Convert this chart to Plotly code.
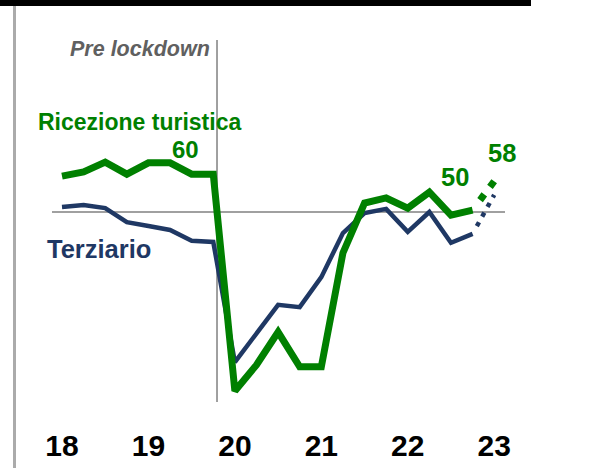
import plotly.graph_objects as go

# ---------------- data ----------------
quarters = ["2018-Q1", "2018-Q2", "2018-Q3", "2018-Q4",
            "2019-Q1", "2019-Q2", "2019-Q3", "2019-Q4",
            "2020-Q1", "2020-Q2", "2020-Q3", "2020-Q4",
            "2021-Q1", "2021-Q2", "2021-Q3", "2021-Q4",
            "2022-Q1", "2022-Q2", "2022-Q3", "2022-Q4",
            "2023-Q1"]
ricezione = [59.2, 60.3, 62.8, 59.7, 62.6, 62.6, 59.7, 59.7,
             4.1, 10.8, 19.2, 10.3, 10.3, 39.5, 52.3, 53.6,
             51.0, 55.1, 49.2, 50.5, 57.9]
terziario = [51.3, 51.8, 51.0, 47.4, 46.4, 45.4, 42.6, 42.3,
             11.5, 18.7, 26.2, 25.6, 33.3, 44.6, 49.7, 50.8,
             44.9, 50.0, 42.1, 44.4, 54.4]
tick_vals = ["2018-Q1", "2019-Q1", "2020-Q1", "2021-Q1", "2022-Q1", "2023-Q1"]
tick_text = ["18", "19", "20", "21", "22", "23"]
n_actual = 20  # last point is the estimate (dotted)

GREEN = "#008000"
NAVY = "#1F3864"

W, H = 595, 468
L, R, T, B = 14, 64, 6, 66
PW, PH = W - L - R, H - T - B


def px(x):
    return (x - L) / PW


def py(y):
    return (H - B - y) / PH


fig = go.Figure()

fig.add_trace(go.Scatter(x=quarters[:n_actual], y=terziario[:n_actual], mode="lines",
                         line=dict(color=NAVY, width=4.5), hoverinfo="skip"))
fig.add_trace(go.Scatter(x=quarters[n_actual - 1:], y=terziario[n_actual - 1:], mode="lines",
                         line=dict(color=NAVY, width=4.5,
                                   dash="0px,8.75px,4.5px,6.5px,4.5px,6.5px,4.5px,6.5px,4.5px,50px"),
                         hoverinfo="skip"))
fig.add_trace(go.Scatter(x=quarters[:n_actual], y=ricezione[:n_actual], mode="lines",
                         line=dict(color=GREEN, width=7), hoverinfo="skip"))
fig.add_trace(go.Scatter(x=quarters[n_actual - 1:], y=ricezione[n_actual - 1:], mode="lines",
                         line=dict(color=GREEN, width=7,
                                   dash="0px,12.5px,7px,9.5px,7px,50px"),
                         hoverinfo="skip"))

shapes = [
    # top black bar
    dict(type="rect", xref="paper", yref="paper", x0=px(0), x1=px(531), y0=py(6), y1=py(0),
         fillcolor="black", line=dict(width=0), layer="above"),
    # left gray rule
    dict(type="line", xref="paper", yref="paper", x0=px(14.5), x1=px(14.5), y0=py(6), y1=py(468),
         line=dict(color="#ABABAB", width=3)),
    # pre-lockdown vertical line
    dict(type="line", xref="x", yref="paper", x0=7.173, x1=7.173, y0=py(402), y1=py(40),
         line=dict(color="#808080", width=1.5), layer="below"),
    # 50 reference line
    dict(type="line", xref="x", yref="y", x0=-0.463, x1=20.5, y0=50, y1=50,
         line=dict(color="#A0A0A0", width=2), layer="below"),
]

F = "Liberation Sans, Arial, sans-serif"
annotations = [
    dict(text="Pre lockdown", x=px(212), y=py(49), xanchor="right", yanchor="middle",
         font=dict(family=F, size=21.5, color="#606060", style="italic", weight="bold")),
    dict(text="Ricezione turistica", x=px(36), y=py(122), xanchor="left", yanchor="middle",
         font=dict(family=F, size=23, color=GREEN, weight="bold")),
    dict(text="60", x=px(185), y=py(149), xanchor="center", yanchor="middle",
         font=dict(family=F, size=24, color=GREEN, weight="bold")),
    dict(text="Terziario", x=px(45), y=py(249), xanchor="left", yanchor="middle",
         font=dict(family=F, size=25.5, color=NAVY, weight="bold")),
    dict(text="50", x=px(455), y=py(176.5), xanchor="center", yanchor="middle",
         font=dict(family=F, size=25.5, color=GREEN, weight="bold")),
    dict(text="58", x=px(501.5), y=py(152.5), xanchor="center", yanchor="middle",
         font=dict(family=F, size=25.5, color=GREEN, weight="bold")),
]
for a in annotations:
    a.update(xref="paper", yref="paper", showarrow=False)

fig.update_layout(
    width=W, height=H,
    margin=dict(l=L, r=R, t=T, b=B, pad=0),
    paper_bgcolor="white", plot_bgcolor="white",
    showlegend=False,
    shapes=shapes,
    annotations=annotations,
    xaxis=dict(type="category", categoryorder="array", categoryarray=quarters,
               range=[-2.221, 21.703], showgrid=False, zeroline=False, showline=False,
               ticks="", tickmode="array", tickvals=tick_vals, ticktext=tick_text,
               tickfont=dict(family=F, size=30, color="black", weight="bold"),
               ticklabelstandoff=23, fixedrange=True),
    yaxis=dict(range=[1.28, 102.82], showgrid=False, zeroline=False, showline=False,
               showticklabels=False, ticks="", fixedrange=True),
)

fig.write_html("out.html", config={"displayModeBar": False},
               post_script="document.body.style.margin='0';document.body.style.overflow='hidden';")
